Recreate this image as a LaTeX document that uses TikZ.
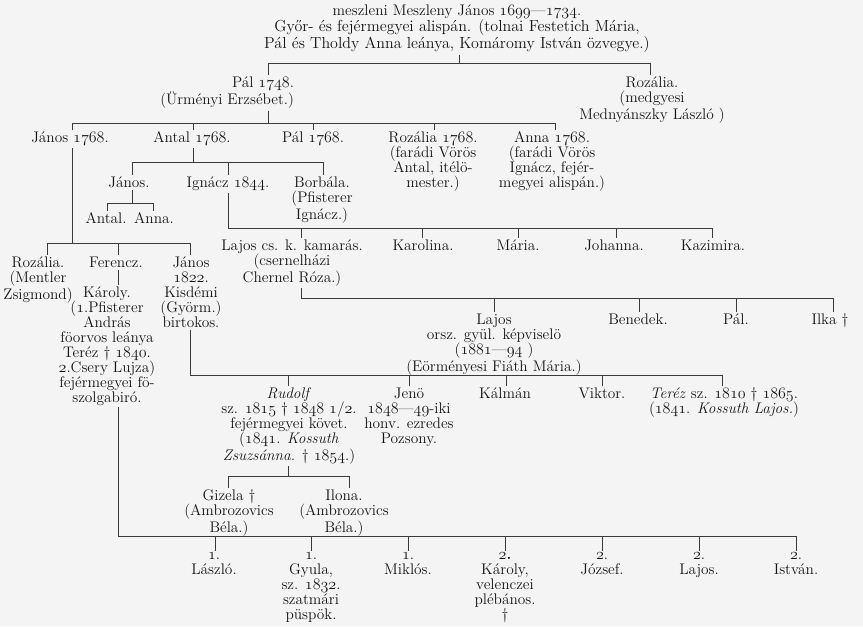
\documentclass[tikz,border=0pt]{standalone}
\usetikzlibrary{calc}
\definecolor{paper}{HTML}{F4F4F4}
\definecolor{ink}{HTML}{141414}
\definecolor{ink2}{HTML}{3A3A3A}
\newcommand{\yr}[1]{\legacyoldstylenums{#1}}
\tikzset{
  every node/.style={font=\fontsize{11.5}{11.2}\selectfont, text=ink, inner sep=0pt, outer sep=1.5pt},
  pers/.style={align=center, anchor=north},
  persr/.style={align=right, anchor=north east},
  head/.style={pers, font=\fontsize{12}{11.8}\selectfont},
  line/.style={draw=ink2, line width=0.55pt},
}

\begin{document}
\begin{tikzpicture}[x=0.75pt, y=-0.75pt]
\fill[paper] (0,0) rectangle (863,626);
\useasboundingbox (0,0) rectangle (863,626);

% ---- generation I -------------------------------------------------------------
\node[head] (root) at (457,3) {{\fontsize{11.5}{11.8}\selectfont meszleni Meszleny János \yr{1699}—\yr{1734}.}\\
  Győr- és fejérmegyei alispán. (tolnai Festetich Mária,\\
  Pál és Tholdy Anna leánya, Komáromy István özvegye.)};

% ---- generation II ------------------------------------------------------------
\node[persr] (pal1748)  at (296,75) {Pál \yr{1748}.\\(Ürményi Erzsébet.)};
\node[pers]  (rozalia1) at (652,75) {Rozália.\\(medgyesi\\Mednyánszky László )};

% ---- generation III -----------------------------------------------------------
\node[pers] (janos1)   at (70,130)  {János \yr{1768}.};
\node[pers] (antal1)   at (192,130) {Antal \yr{1768}.};
\node[pers] (pal2)     at (313,130) {Pál \yr{1768}.};
\node[pers] (rozalia2) at (433,130) {Rozália \yr{1768}.\\(farádi Vörös\\Antal, itélö-\\mester.)};
\node[pers] (anna1)    at (552,130) {Anna \yr{1768}.\\(farádi Vörös\\Ignácz, fejér-\\megyei alispán.)};

% ---- Antal's line ---------------------------------------------------------------
\node[pers] (janos2)  at (129,175) {János.};
\node[pers] (ignacz)  at (228,175) {Ignácz \yr{1844}.};
\node[pers] (borbala) at (322,175) {Borbála.\\(Pfisterer\\Ignácz.)};
\node[pers] (antal2)  at (106,211) {Antal.};
\node[pers] (anna2)   at (154,211) {Anna.};

\node[pers] (lajos1)   at (292,238) {Lajos cs. k. kamarás.\\(csernelházi\\Chernel Róza.)};
\node[pers] (karolina) at (423,238) {Karolina.};
\node[pers] (maria)    at (518,238) {Mária.};
\node[pers] (johanna)  at (614,238) {Johanna.};
\node[pers] (kazimira) at (713,238) {Kazimira.};

\node[pers] (lajos2)  at (494,312) {Lajos\\orsz. gyül. képviselö\\(\yr{1881}—\yr{94} )\\(Eörményesi Fiáth Mária.)};
\node[pers] (benedek) at (638,312) {Benedek.};
\node[pers] (pal3)    at (736,312) {Pál.};
\node[pers] (ilka)    at (830,312) {Ilka †};

% ---- János' line ----------------------------------------------------------------
\node[pers] (rozalia3) at (38,255)  {Rozália.\\(Mentler\\Zsigmond)};
\node[pers] (ferencz)  at (116,255) {Ferencz.};
\node[pers] (janos3)   at (191,255) {János\\\yr{1822}.\\Kisdémi\\(Györm.)\\birtokos.};
\node[pers] (karoly1)  at (107,285) {Károly.\\(\yr{1}.Pfisterer\\András\\föorvos leánya\\Teréz † \yr{1840}.\\\yr{2}.Csery Lujza)\\fejérmegyei fö-\\szolgabiró.};

\node[pers] (rudolf) at (289,386) {\textit{Rudolf}\\sz. \yr{1815} † \yr{1848} \yr{1}/\yr{2}.\\fejérmegyei követ.\\(\yr{1841}. \textit{Kossuth}\\\textit{Zsuzsánna.} † \yr{1854}.)};
\node[pers] (jeno)   at (409,386) {Jenö\\\yr{1848}—\yr{49}-iki\\honv. ezredes\\Pozsony.};
\node[pers] (kalman) at (505,386) {Kálmán};
\node[pers] (viktor) at (602,386) {Viktor.};
\node[pers] (terez)  at (724,386) {\textit{Teréz} sz. \yr{1810} † \yr{1865}.\\(\yr{1841}. \textit{Kossuth Lajos.})};

\node[pers] (gizela) at (229,488) {Gizela †\\(Ambrozovics\\Béla.)};
\node[pers] (ilona)  at (344,488) {Ilona.\\(Ambrozovics\\Béla.)};

\node[pers] (laszlo)  at (214,551) {\yr{1}.\\László.};
\node[pers] (gyula)   at (311,551) {\yr{1}.\\Gyula,\\sz. \yr{1832}.\\szatmári\\püspök.};
\node[pers] (miklos)  at (408,551) {\yr{1}.\\Miklós.};
\node[pers] (karoly2) at (505,551) {\textbf{\yr{2}.}\\Károly,\\velenczei\\plébános.\\†};
\node[pers] (jozsef)  at (602,551) {\yr{2}.\\József.};
\node[pers] (lajos3)  at (699,551) {\yr{2}.\\Lajos.};
\node[pers] (istvan)  at (796,551) {\yr{2}.\\István.};

% ---- buses: parent drop, sibling line, ticks -----------------------------------
\coordinate (d-root) at (459,63);
\draw[line] (d-root |- root.south) -- (d-root);
\foreach \x/\n in {268/pal1748, 650/rozalia1} {
  \coordinate (t-\n) at (\x,63);
  \draw[line] (t-\n) -- (t-\n |- \n.north);
}
\draw[line] (t-pal1748) -- (t-rozalia1);

\coordinate (d-pal1748) at (268,123);
\draw[line] (d-pal1748 |- pal1748.south) -- (d-pal1748);
\foreach \x/\n in {72/janos1, 193/antal1, 313/pal2, 434/rozalia2, 555/anna1} {
  \coordinate (t-\n) at (\x,123);
  \draw[line] (t-\n) -- (t-\n |- \n.north);
}
\draw[line] (t-janos1) -- (t-anna1);

\coordinate (d-antal1) at (193,162);
\draw[line] (d-antal1 |- antal1.south) -- (d-antal1);
\foreach \x/\n in {132/janos2, 228/ignacz, 323/borbala} {
  \coordinate (t-\n) at (\x,162);
  \draw[line] (t-\n) -- (t-\n |- \n.north);
}
\draw[line] (t-janos2) -- (t-borbala);

\coordinate (d-janos2) at (132,203);
\draw[line] (d-janos2 |- janos2.south) -- (d-janos2);
\foreach \x/\n in {107/antal2, 153/anna2} {
  \coordinate (t-\n) at (\x,203);
  \draw[line] (t-\n) -- (t-\n |- \n.north);
}
\draw[line] (t-antal2) -- (t-anna2);

\coordinate (d-ignacz) at (228,228);
\draw[line] (d-ignacz |- ignacz.south) -- (d-ignacz);
\foreach \x/\n in {301/lajos1, 422/karolina, 518/maria, 616/johanna, 712/kazimira} {
  \coordinate (t-\n) at (\x,228);
  \draw[line] (t-\n) -- (t-\n |- \n.north);
}
\draw[line] (d-ignacz) -- (t-kazimira);

\coordinate (d-lajos1) at (301,298);
\draw[line] (d-lajos1 |- lajos1.south) -- (d-lajos1);
\foreach \x/\n in {494/lajos2, 639/benedek, 736/pal3, 833/ilka} {
  \coordinate (t-\n) at (\x,298);
  \draw[line] (t-\n) -- (t-\n |- \n.north);
}
\draw[line] (d-lajos1) -- (t-ilka);

\coordinate (d-janos1) at (72,243);
\draw[line] (d-janos1 |- janos1.south) -- (d-janos1);
\foreach \x/\n in {47/rozalia3, 118/ferencz, 190/janos3} {
  \coordinate (t-\n) at (\x,243);
  \draw[line] (t-\n) -- (t-\n |- \n.north);
}
\draw[line] (t-rozalia3) -- (t-janos3);
\coordinate (d-ferencz) at (118,270);
\draw[line] (d-ferencz |- ferencz.south) -- (d-ferencz |- karoly1.north);

\coordinate (d-janos3) at (190,375);
\draw[line] (d-janos3 |- janos3.south) -- (d-janos3);
\foreach \x/\n in {288/rudolf, 409/jeno, 506/kalman, 602/viktor, 722/terez} {
  \coordinate (t-\n) at (\x,375);
  \draw[line] (t-\n) -- (t-\n |- \n.north);
}
\draw[line] (d-janos3) -- (t-terez);

\coordinate (d-rudolf) at (288,476);
\draw[line] (d-rudolf |- rudolf.south) -- (d-rudolf);
\foreach \x/\n in {228/gizela, 349/ilona} {
  \coordinate (t-\n) at (\x,476);
  \draw[line] (t-\n) -- (t-\n |- \n.north);
}
\draw[line] (t-gizela) -- (t-ilona);

\coordinate (d-karoly1) at (118,536);
\draw[line] (d-karoly1 |- karoly1.south) -- (d-karoly1);
\foreach \x/\n in {215/laszlo, 311/gyula, 408/miklos, 505/karoly2, 602/jozsef, 699/lajos3, 796/istvan} {
  \coordinate (t-\n) at (\x,536);
  \draw[line] (t-\n) -- (t-\n |- \n.north);
}
\draw[line] (d-karoly1) -- (t-istvan);
\end{tikzpicture}
\end{document}
